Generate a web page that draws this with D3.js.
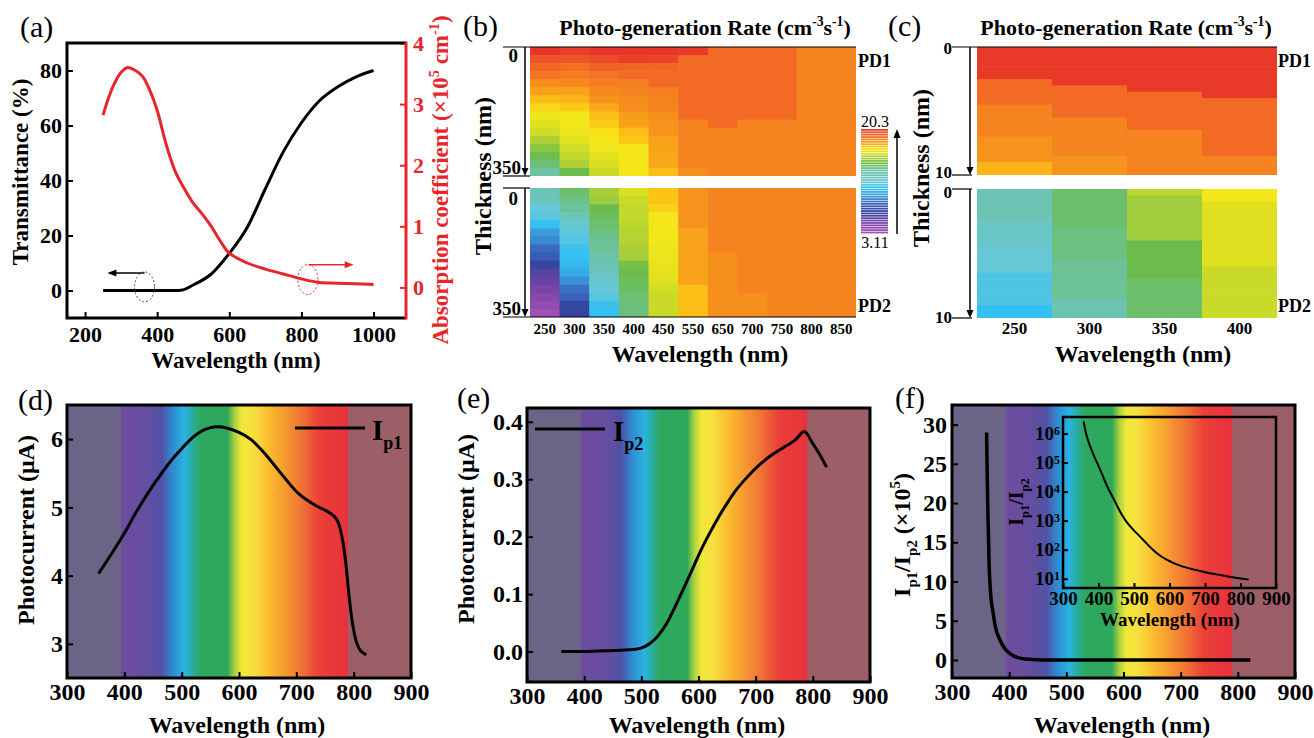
<!DOCTYPE html>
<html><head><meta charset="utf-8">
<script src="https://cdn.jsdelivr.net/npm/d3@7"></script>
<style>html,body{margin:0;padding:0;background:#fff;} svg text{font-family:'Liberation Serif','DejaVu Serif',serif;}</style>
</head><body><svg id="chart" width="1314" height="738"></svg>
<script>
// ---------------- DATA ----------------
// (a) transmittance & absorption
const aWaveT = [250, 300, 350, 400, 450, 470, 500, 550, 600, 650, 700, 750, 800, 850, 900, 950, 1000];
const aTrans = [0, 0, 0, 0, 0, 0.2, 2, 6, 13.5, 23, 37, 50.5, 61, 69, 74, 77.6, 80];
const aWaveA = [250, 265, 280, 300, 318, 340, 360, 380, 400, 425, 450, 475, 500, 525, 550, 575, 600, 650, 700, 750, 800, 850, 900, 950, 1000];
const aAbs = [2.82, 3.1, 3.32, 3.52, 3.6, 3.55, 3.45, 3.22, 2.9, 2.34, 1.9, 1.62, 1.38, 1.2, 1.0, 0.76, 0.56, 0.4, 0.3, 0.22, 0.14, 0.08, 0.07, 0.06, 0.05];
const aXTicks = [200, 400, 600, 800, 1000];
const aYTicks = [0, 20, 40, 60, 80];
const aY2Ticks = [0, 1, 2, 3, 4];

// (b) photo-generation rate (log), columns of rows from 0 to 350 nm
const bCats = ["250","300","350","400","450","550","650","700","750","800","850"];
const bPD1 = [
 [20.3,19.6,19.2,18.9,18.4,18.0,17.5,17.1,16.8,16.4,16.1,15.6,15.1,14.5,14.1,13.2],
 [20.1,19.6,19.0,18.7,18.5,18.0,17.7,17.3,16.9,16.8,16.7,16.5,16.1,15.9,15.6,14.6],
 [20.3,19.8,19.3,18.9,18.7,18.5,18.3,17.9,17.5,17.3,17.0,16.9,16.8,16.5,16.3,16.0],
 [20.3,20.1,19.2,19.1,18.7,18.6,18.45,18.4,18.1,18.0,17.5,17.4,16.95,16.9,16.9,16.9],
 [20.3,20.0,19.2,19.1,19.1,18.7,18.6,18.6,18.4,18.3,18.3,18.0,18.0,17.9,17.9,17.5],
 [20.2,19.1,19.1,19.1,19.1,19.1,19.1,19.1,19.1,18.6,18.6,18.6,18.6,18.6,18.6,18.4],
 [19.1,19.1,19.1,19.1,19.1,19.1,19.1,19.1,19.1,19.1,18.6,18.6,18.6,18.6,18.6,18.6],
 [19.1,19.1,19.1,19.1,19.1,19.1,19.1,19.1,19.1,18.6,18.6,18.6,18.6,18.6,18.6,18.6],
 [19.1,19.1,19.1,19.1,19.1,19.1,19.1,19.1,19.1,18.6,18.6,18.6,18.6,18.6,18.6,18.6],
 [18.6,18.6,18.6,18.6,18.6,18.6,18.6,18.6,18.6,18.6,18.6,18.6,18.6,18.6,18.6,18.6],
 [18.6,18.6,18.6,18.6,18.6,18.6,18.6,18.6,18.6,18.6,18.6,18.6,18.6,18.6,18.6,18.6]
];
const bPD2 = [
 [12.8,12.5,11.6,11.3,10.4,9.4,8.9,8.0,7.6,6.9,5.8,5.4,4.9,4.5,4.0,3.4],
 [14.2,13.8,13.4,12.6,12.0,11.4,11.1,10.6,10.4,10.2,9.8,9.0,8.2,7.8,6.9,6.8],
 [15.5,15.3,14.6,14.4,14.2,13.9,13.6,13.5,13.0,12.8,12.4,12.0,11.6,11.3,10.6,10.4],
 [16.3,16.0,15.9,15.9,15.8,15.7,15.7,15.5,15.5,14.8,14.6,14.4,14.3,14.1,14.0,14.0],
 [17.4,17.4,17.2,16.9,16.9,16.9,16.8,16.7,16.7,16.6,16.5,16.4,16.1,16.0,16.0,16.0],
 [18.3,18.3,18.3,18.3,18.3,18.0,18.0,18.0,18.0,18.0,18.0,18.0,17.5,17.5,17.5,17.5],
 [18.6,18.6,18.6,18.6,18.6,18.6,18.6,18.6,18.35,18.35,18.35,18.35,18.35,18.35,18.35,18.35],
 [18.6,18.6,18.6,18.6,18.6,18.6,18.6,18.6,18.6,18.6,18.6,18.6,18.6,18.35,18.35,18.35],
 [18.6,18.6,18.6,18.6,18.6,18.6,18.6,18.6,18.6,18.6,18.6,18.6,18.6,18.6,18.6,18.6],
 [18.6,18.6,18.6,18.6,18.6,18.6,18.6,18.6,18.6,18.6,18.6,18.6,18.6,18.6,18.6,18.6],
 [18.6,18.6,18.6,18.6,18.6,18.6,18.6,18.6,18.6,18.6,18.6,18.6,18.6,18.6,18.6,18.6]
];
// (c) rows from 0 to 10 nm
const cCats = ["250","300","350","400"];
const cPD1 = [
 [20.2,20.2,20.2,20.2,20.2,19.1,19.1,19.1,19.1,18.6,18.6,18.6,18.6,18.6,18.3,18.3,18.3,18.3,17.7,17.7],
 [20.2,20.2,20.2,20.2,20.2,20.2,19.1,19.1,19.1,19.1,19.1,18.6,18.6,18.6,18.6,18.6,18.6,18.3,18.3,18.3],
 [20.2,20.2,20.2,20.2,20.2,20.2,20.2,19.1,19.1,19.1,19.1,19.1,19.1,18.6,18.6,18.6,18.6,18.6,18.6,18.6],
 [20.2,20.2,20.2,20.2,20.2,20.2,20.2,20.2,19.1,19.1,19.1,19.1,19.1,19.1,19.1,19.1,19.1,18.6,18.6,18.6]
];
const cPD2 = [
 [12.8,12.8,12.8,12.8,12.8,12.2,12.2,12.2,12.2,11.7,11.7,11.7,11.7,11.0,11.0,11.0,11.0,11.0,10.4,10.4],
 [14.2,14.2,14.2,14.2,14.2,14.2,13.9,13.9,13.9,13.9,13.9,13.5,13.5,13.5,13.5,13.5,13.5,12.9,12.9,12.9],
 [15.8,15.4,15.4,15.4,15.4,15.4,15.4,15.4,14.6,14.6,14.6,14.6,14.6,14.6,14.2,14.2,14.2,14.2,14.2,14.2],
 [16.9,16.9,16.4,16.4,16.4,16.4,16.4,16.4,16.4,16.4,16.4,16.4,16.0,16.0,16.0,16.0,16.0,16.0,16.0,16.0]
];
const cbMin = 3.11, cbMax = 20.3;
const cbStops = [3.11, 4.4, 5.6, 6.8, 7.8, 9.0, 10.4, 11.6, 12.8, 13.8, 14.6, 15.5, 16.2, 16.9, 17.4, 18.0, 18.6, 19.1, 19.6, 20.3];
const cbColors = ["#a454b8","#8a48aa","#5c44a0","#3444a0","#3a62ba","#3c8ed6","#34c0f0","#66c8d8","#6cc4b4","#6cc08a","#6cbc4c","#a8cf3a","#d6df22","#f5e61a","#fbc416","#f8a21a","#f5831f","#f26a24","#ee5526","#e8352a"];

// (d)(e)(f) spectra
const dWave = [355, 380, 400, 420, 442, 465, 485, 500, 520, 540, 560, 580, 600, 620, 646, 675, 704, 733, 750, 765, 773, 780, 786, 792, 798, 805, 812, 822];
const dIp1 = [4.03, 4.35, 4.62, 4.92, 5.22, 5.5, 5.72, 5.86, 6.03, 6.14, 6.18, 6.16, 6.1, 6.0, 5.78, 5.48, 5.2, 5.03, 4.96, 4.88, 4.78, 4.55, 4.2, 3.7, 3.3, 3.02, 2.9, 2.84];
const eWave = [360, 400, 450, 490, 505, 515, 528, 545, 560, 575, 590, 605, 620, 635, 650, 665, 680, 695, 710, 725, 740, 755, 770, 785, 800, 812, 824];
const eIp2 = [0, 0, 0.002, 0.004, 0.008, 0.014, 0.026, 0.05, 0.08, 0.112, 0.145, 0.178, 0.207, 0.234, 0.258, 0.28, 0.298, 0.314, 0.328, 0.34, 0.35, 0.359, 0.369, 0.383, 0.362, 0.343, 0.321];
const fWave = [360.5, 361.5, 363, 365, 367.5, 372, 376, 384, 392, 401, 415, 435, 460, 500, 600, 700, 822];
const fRatio = [29, 24, 18, 12, 8.5, 6.0, 4.2, 2.55, 1.5, 0.85, 0.3, 0.08, 0.01, 0, 0, 0, 0];
const insWave = [358, 365, 372, 385, 395, 410, 423, 437, 451, 465, 479, 497, 517, 535, 554, 573, 592, 615, 638, 660, 685, 710, 732, 755, 778, 800, 823];
const insRatio = [2.6e6, 1.0e6, 5.1e5, 2.0e5, 1.05e5, 4.0e4, 1.66e4, 7.6e3, 3.5e3, 1.66e3, 912, 500, 282, 166, 98, 63, 45, 33, 26, 22, 18.6, 15.8, 14.1, 12.6, 11.2, 10.2, 9.3];
const specTicks = [300, 400, 500, 600, 700, 800, 900];
const dYTicks = [3, 4, 5, 6];
const eYTicks = [0, 0.1, 0.2, 0.3, 0.4];
const fYTicks = [0, 5, 10, 15, 20, 25, 30];
const insYTicks = [10, 100, 1000, 1e4, 1e5, 1e6];
const specNm = [300, 393, 395, 440, 465, 485, 505, 520, 532, 580, 592, 605, 625, 650, 680, 710, 740, 789, 791, 900];
const specCol = ["#6c6486","#6c6486","#6e4c9e","#654ea0","#5052a6","#2e8ed2","#2ab2e2","#2aac9a","#2ea860","#2ea85a","#a8d040","#f0e838","#f6e040","#fbbf30","#f59a32","#f07235","#ea4039","#e8323c","#9c5f68","#9c5f68"];

// ---------------- HELPERS ----------------
const F = "'Liberation Serif', 'DejaVu Serif', serif";
const svg = d3.select("#chart");
svg.append("rect").attr("width",1314).attr("height",738).attr("fill","#fff");

function T(parent, x, y, parts, size, opt = {}) {
  const t = parent.append("text").attr("x", x).attr("y", y)
    .style("font-family", F).attr("font-size", size)
    .attr("font-weight", opt.weight || "bold")
    .attr("fill", opt.fill || "#000")
    .attr("text-anchor", opt.anchor || "start");
  if (opt.rotate) t.attr("transform", `rotate(${opt.rotate},${x},${y})`);
  if (typeof parts === "string") parts = [[parts, "n"]];
  let cur = 0;
  parts.forEach(([s, k]) => {
    const target = k === "sup" ? -size * 0.4 : k === "sub" ? size * 0.3 : 0;
    const ts = t.append("tspan").text(s);
    if (target - cur !== 0) ts.attr("dy", target - cur);
    if (k !== "n") ts.attr("font-size", size * 0.62);
    cur = target;
  });
  return t;
}
function styleAxis(g, size, color = "#000") {
  g.attr("font-family", null);
  g.select(".domain").remove();
  g.selectAll(".tick line").attr("stroke", color).attr("stroke-width", 2);
  g.selectAll(".tick text").style("font-family", F).attr("font-size", size)
    .attr("font-weight", "bold").attr("fill", color);
}
function tri(parent, pts, color) {
  parent.append("path").attr("d", "M" + pts.map(p => p.join(",")).join("L") + "Z").attr("fill", color);
}

// ---------------- PANEL (a) ----------------
const gA = svg.append("g");
const xA = d3.scaleLinear().domain([150, 1090]).range([67, 406]);
const yAL = d3.scaleLinear().domain([-10, 90]).range([318, 43]);
const yAR = d3.scaleLinear().domain([-0.5, 4]).range([318, 43]);
const RED = "#e8262a";
gA.append("g").attr("transform", "translate(0,318)")
  .call(d3.axisBottom(xA).tickValues(aXTicks).tickFormat(d3.format("d")).tickSizeInner(-6).tickSizeOuter(0).tickPadding(8))
  .call(g => styleAxis(g, 22));
gA.append("g").attr("transform", "translate(67,0)")
  .call(d3.axisLeft(yAL).tickValues(aYTicks).tickFormat(d3.format("d")).tickSizeInner(-6).tickSizeOuter(0).tickPadding(5))
  .call(g => styleAxis(g, 22));
gA.append("g").attr("transform", "translate(406,0)")
  .call(d3.axisRight(yAR).tickValues(aY2Ticks).tickFormat(d3.format("d")).tickSizeInner(-6).tickSizeOuter(0).tickPadding(7))
  .call(g => styleAxis(g, 22, RED));
gA.append("path").datum(d3.zip(aWaveT, aTrans))
  .attr("d", d3.line().x(d => xA(d[0])).y(d => yAL(d[1])).curve(d3.curveMonotoneX))
  .attr("fill", "none").attr("stroke", "#000").attr("stroke-width", 3);
gA.append("path").datum(d3.zip(aWaveA, aAbs))
  .attr("d", d3.line().x(d => xA(d[0])).y(d => yAR(d[1])).curve(d3.curveCatmullRom))
  .attr("fill", "none").attr("stroke", RED).attr("stroke-width", 3);
// annotations
const ay1 = yAL(6.4);
gA.append("line").attr("x1", xA(365)).attr("x2", xA(272)).attr("y1", ay1).attr("y2", ay1).attr("stroke", "#000").attr("stroke-width", 1.5);
tri(gA, [[xA(262), ay1], [xA(262) + 9, ay1 - 3.5], [xA(262) + 9, ay1 + 3.5]], "#000");
gA.append("ellipse").attr("cx", xA(365)).attr("cy", yAL(1.3)).attr("rx", 10).attr("ry", 15)
  .attr("fill", "none").attr("stroke", "#444").attr("stroke-width", 1).attr("stroke-dasharray", "2,2");
const ay2 = yAR(0.37);
gA.append("line").attr("x1", xA(820)).attr("x2", xA(925)).attr("y1", ay2).attr("y2", ay2).attr("stroke", RED).attr("stroke-width", 1.5);
tri(gA, [[xA(945), ay2], [xA(945) - 9, ay2 - 3.5], [xA(945) - 9, ay2 + 3.5]], RED);
gA.append("ellipse").attr("cx", xA(818)).attr("cy", yAR(0.13)).attr("rx", 10).attr("ry", 15)
  .attr("fill", "none").attr("stroke", RED).attr("stroke-width", 1).attr("stroke-dasharray", "2,2");
// frame
gA.append("path").attr("d", "M406,43L67,43L67,318L406,318").attr("fill", "none").attr("stroke", "#000").attr("stroke-width", 3);
gA.append("line").attr("x1", 406).attr("x2", 406).attr("y1", 41.5).attr("y2", 319.5).attr("stroke", RED).attr("stroke-width", 3);
T(gA, 20, 37, "(a)", 30, { weight: "normal" });
T(gA, 236, 368, "Wavelength (nm)", 23, { anchor: "middle" });
T(gA, 28, 172, "Transmittance (%)", 23, { anchor: "middle", rotate: -90 });
T(gA, 448, 180, [["Absorption coefficient (×10", "n"], ["5", "sup"], [" cm", "n"], ["-1", "sup"], [")", "n"]], 23, { anchor: "middle", rotate: -90, fill: RED });

// ---------------- HEATMAPS ----------------
const color = d3.scaleLinear().domain(cbStops).range(cbColors).interpolate(d3.interpolateRgb);
function heat(parent, cats, cols, x0, x1, y0, y1) {
  const xb = d3.scaleBand().domain(cats).range([x0, x1]);
  const nRows = cols[0].length;
  const yb = d3.scaleBand().domain(d3.range(nRows)).range([y0, y1]);
  cols.forEach((col, ci) => {
    parent.append("g").selectAll("rect").data(col).join("rect")
      .attr("x", xb(cats[ci])).attr("y", (d, ri) => yb(ri))
      .attr("width", xb.bandwidth() + (ci < cats.length - 1 ? 0.6 : 0))
      .attr("height", (d, ri) => yb.bandwidth() + (ri < nRows - 1 ? 0.6 : 0))
      .attr("fill", d => color(d));
  });
  return xb;
}
function hline(parent, x1, x2, y) {
  parent.append("line").attr("x1", x1).attr("x2", x2).attr("y1", y).attr("y2", y).attr("stroke", "#000").attr("stroke-width", 1.2);
}
function downArrow(parent, x, y0, y1) {
  parent.append("line").attr("x1", x).attr("x2", x).attr("y1", y0).attr("y2", y1 - 6).attr("stroke", "#000").attr("stroke-width", 1.5);
  tri(parent, [[x - 3.5, y1 - 8], [x + 3.5, y1 - 8], [x, y1]], "#000");
}

// panel (b)
const gB = svg.append("g");
const xbB = heat(gB, bCats, bPD1, 530, 856, 47, 176);
heat(gB, bCats, bPD2, 530, 856, 188, 317);
hline(gB, 503, 856, 47); hline(gB, 503, 530, 176);
hline(gB, 503, 530, 188); hline(gB, 503, 856, 317);
downArrow(gB, 525, 47, 176); downArrow(gB, 525, 188, 317);
T(gB, 518, 62, "0", 19, { anchor: "end" });
T(gB, 521, 174, "350", 19, { anchor: "end" });
T(gB, 518, 205, "0", 19, { anchor: "end" });
T(gB, 521, 315, "350", 19, { anchor: "end" });
gB.append("g").attr("transform", "translate(0,317)")
  .call(d3.axisBottom(xbB).tickSize(0).tickPadding(6))
  .call(g => styleAxis(g, 15));
T(gB, 463, 36, "(b)", 30, { weight: "normal" });
T(gB, 705, 35, [["Photo-generation Rate (cm", "n"], ["-3", "sup"], ["s", "n"], ["-1", "sup"], [")", "n"]], 22, { anchor: "middle" });
T(gB, 700, 362, "Wavelength (nm)", 24, { anchor: "middle" });
T(gB, 491, 176, "Thickness (nm)", 24, { anchor: "middle", rotate: -90 });
T(gB, 858, 67, "PD1", 18);
T(gB, 858, 312, "PD2", 18);
// colorbar
const cbY = d3.scaleLinear().domain([cbMin, cbMax]).range([234, 129]);
const nb = 44, step = (cbMax - cbMin) / nb;
gB.append("g").selectAll("rect").data(d3.range(nb)).join("rect")
  .attr("x", 861).attr("width", 27)
  .attr("y", i => cbY(cbMin + (i + 1) * step))
  .attr("height", i => cbY(cbMin + i * step) - cbY(cbMin + (i + 1) * step) - 0.6)
  .attr("fill", i => color(cbMin + (i + 0.5) * step));
gB.append("line").attr("x1", 897).attr("x2", 897).attr("y1", 234).attr("y2", 137).attr("stroke", "#000").attr("stroke-width", 1.5);
tri(gB, [[893.5, 138], [900.5, 138], [897, 129]], "#000");
T(gB, 875, 127, String(cbMax), 16, { anchor: "middle", weight: "normal" });
T(gB, 875, 248, String(cbMin), 16, { anchor: "middle", weight: "normal" });

// panel (c)
const gC = svg.append("g");
const xbC = heat(gC, cCats, cPD1, 977, 1277, 47, 175);
heat(gC, cCats, cPD2, 977, 1277, 189, 318);
hline(gC, 952, 1277, 47); hline(gC, 952, 972, 175);
hline(gC, 952, 972, 189); hline(gC, 952, 972, 318);
downArrow(gC, 970, 47, 175); downArrow(gC, 970, 189, 318);
T(gC, 952, 54, "0", 17, { anchor: "end" });
T(gC, 952, 178, "10", 17, { anchor: "end" });
T(gC, 952, 198, "0", 17, { anchor: "end" });
T(gC, 952, 323, "10", 17, { anchor: "end" });
gC.append("g").attr("transform", "translate(0,318)")
  .call(d3.axisBottom(xbC).tickSize(0).tickPadding(4))
  .call(g => styleAxis(g, 17));
T(gC, 888, 36, "(c)", 30, { weight: "normal" });
T(gC, 1126, 35, [["Photo-generation Rate (cm", "n"], ["-3", "sup"], ["s", "n"], ["-1", "sup"], [")", "n"]], 22, { anchor: "middle" });
T(gC, 1143, 362, "Wavelength (nm)", 24, { anchor: "middle" });
T(gC, 929, 168, "Thickness (nm)", 24, { anchor: "middle", rotate: -90 });
T(gC, 1278, 67, "PD1", 18);
T(gC, 1278, 312, "PD2", 18);

// ---------------- SPECTRUM PANELS ----------------
const defs = svg.append("defs");
const grad = defs.append("linearGradient").attr("id", "spec").attr("x1", 0).attr("x2", 1).attr("y1", 0).attr("y2", 0);
specNm.forEach((nm, i) => grad.append("stop").attr("offset", (nm - 300) / 600).attr("stop-color", specCol[i]));

function specPanel(x0, x1, y0, y1, yDom, yTicks, yFmt, xPad, yPad) {
  const g = svg.append("g");
  const x = d3.scaleLinear().domain([300, 900]).range([x0, x1]);
  const y = d3.scaleLinear().domain(yDom).range([y1, y0]);
  g.append("rect").attr("x", x(300)).attr("y", y0).attr("width", x(900) - x(300)).attr("height", y1 - y0).attr("fill", "url(#spec)");
  g.append("g").attr("transform", `translate(0,${y1})`)
    .call(d3.axisBottom(x).tickValues(specTicks).tickFormat(d3.format("d")).tickSizeInner(-6).tickSizeOuter(0).tickPadding(xPad))
    .call(a => styleAxis(a, 24));
  g.append("g").attr("transform", `translate(${x0},0)`)
    .call(d3.axisLeft(y).tickValues(yTicks).tickFormat(yFmt).tickSizeInner(-6).tickSizeOuter(0).tickPadding(yPad))
    .call(a => styleAxis(a, 24));
  return { g, x, y };
}
function frame(g, x0, x1, y0, y1, w) {
  g.append("rect").attr("x", x0).attr("y", y0).attr("width", x1 - x0).attr("height", y1 - y0)
    .attr("fill", "none").attr("stroke", "#000").attr("stroke-width", w);
}

// (d)
const D = specPanel(67, 411, 405, 678, [2.5, 6.5], dYTicks, d3.format("d"), 5, 4);
D.g.append("path").datum(d3.zip(dWave, dIp1))
  .attr("d", d3.line().x(d => D.x(d[0])).y(d => D.y(d[1])).curve(d3.curveCatmullRom))
  .attr("fill", "none").attr("stroke", "#000").attr("stroke-width", 3);
frame(D.g, 67, 411, 405, 678, 3);
D.g.append("line").attr("x1", 295).attr("x2", 365).attr("y1", 428).attr("y2", 428).attr("stroke", "#000").attr("stroke-width", 3);
T(D.g, 372, 440, [["I", "n"], ["p1", "sub"]], 29);
T(D.g, 18, 410, "(d)", 30, { weight: "normal" });
T(D.g, 237, 733, "Wavelength (nm)", 24, { anchor: "middle" });
T(D.g, 34, 530, "Photocurrent (μA)", 24, { anchor: "middle", rotate: -90 });

// (e)
const E = specPanel(527, 870, 408, 682, [-0.053, 0.424], eYTicks, d3.format(".1f"), 5, 4);
E.g.append("path").datum(d3.zip(eWave, eIp2))
  .attr("d", d3.line().x(d => E.x(d[0])).y(d => E.y(d[1])).curve(d3.curveMonotoneX))
  .attr("fill", "none").attr("stroke", "#000").attr("stroke-width", 3);
frame(E.g, 527, 870, 408, 682, 3);
E.g.append("line").attr("x1", 535).attr("x2", 605).attr("y1", 429).attr("y2", 429).attr("stroke", "#000").attr("stroke-width", 3);
T(E.g, 613, 441, [["I", "n"], ["p2", "sub"]], 29);
T(E.g, 457, 408, "(e)", 30, { weight: "normal" });
T(E.g, 697, 733, "Wavelength (nm)", 24, { anchor: "middle" });
T(E.g, 474, 529, "Photocurrent (μA)", 24, { anchor: "middle", rotate: -90 });

// (f)
const Fp = specPanel(952, 1295, 405, 678, [-2.3, 32.5], fYTicks, d3.format("d"), 5, 5);
Fp.g.append("path").datum(d3.zip(fWave, fRatio))
  .attr("d", d3.line().x(d => Fp.x(d[0])).y(d => Fp.y(d[1])).curve(d3.curveMonotoneX))
  .attr("fill", "none").attr("stroke", "#000").attr("stroke-width", 3.5);
frame(Fp.g, 952, 1295, 405, 678, 3);
T(Fp.g, 895, 408, "(f)", 30, { weight: "normal" });
T(Fp.g, 1122, 733, "Wavelength (nm)", 24, { anchor: "middle" });
T(Fp.g, 910, 535, [["I", "n"], ["p1", "sub"], ["/I", "n"], ["p2", "sub"], [" (×10", "n"], ["5", "sup"], [")", "n"]], 24, { anchor: "middle", rotate: -90 });

// inset
const gI = svg.append("g");
const xI = d3.scaleLinear().domain([300, 900]).range([1063, 1276]);
const yI = d3.scaleLog().domain([Math.pow(10, 0.68), Math.pow(10, 6.57)]).range([588, 417]);
gI.append("g").attr("transform", "translate(0,588)")
  .call(d3.axisBottom(xI).tickValues(specTicks).tickFormat(d3.format("d")).tickSizeInner(-5).tickSizeOuter(0).tickPadding(3))
  .call(a => styleAxis(a, 19));
gI.append("g").attr("transform", "translate(1063,0)")
  .call(d3.axisLeft(yI).tickValues(insYTicks).tickSizeInner(-5).tickSizeOuter(0).tickPadding(3))
  .call(a => styleAxis(a, 19))
  .call(a => a.selectAll(".tick text").each(function (d) {
    const t = d3.select(this); t.text("");
    t.append("tspan").text("10");
    t.append("tspan").attr("dy", "-0.45em").attr("font-size", 12).text(Math.round(Math.log10(d)));
  }));
gI.append("path").datum(d3.zip(insWave, insRatio))
  .attr("d", d3.line().x(d => xI(d[0])).y(d => yI(d[1])).curve(d3.curveMonotoneX))
  .attr("fill", "none").attr("stroke", "#000").attr("stroke-width", 2);
frame(gI, 1063, 1276, 417, 588, 2.5);
T(gI, 1170, 626, "Wavelength (nm)", 19, { anchor: "middle" });
T(gI, 1023, 502, [["I", "n"], ["p1", "sub"], ["/I", "n"], ["p2", "sub"]], 20, { anchor: "middle", rotate: -90 });
</script></body></html>
